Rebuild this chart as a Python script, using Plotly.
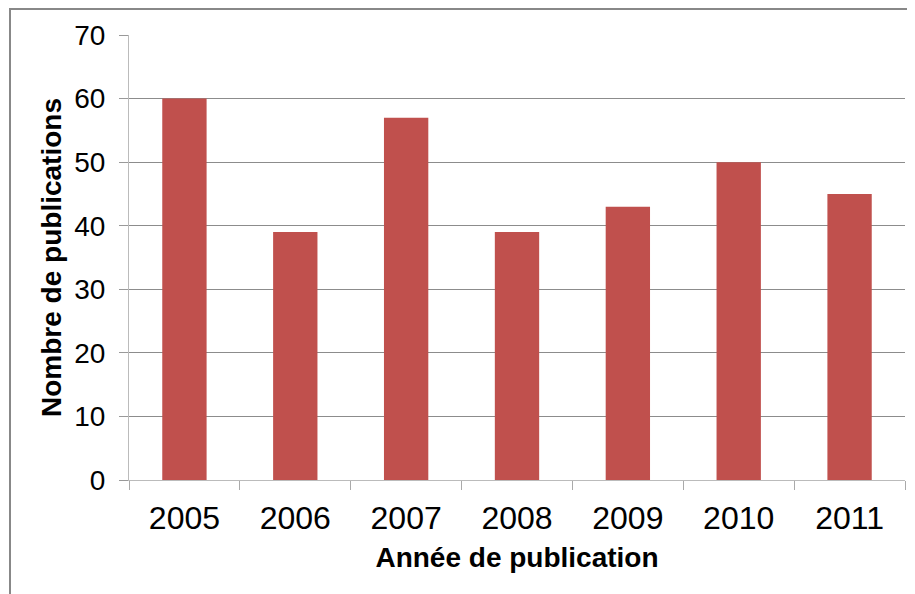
import plotly.graph_objects as go

years = ["2005", "2006", "2007", "2008", "2009", "2010", "2011"]
publications = [60, 39, 57, 39, 43, 50, 45]
y_ticks = [0, 10, 20, 30, 40, 50, 60, 70]

bar_color = "#C0504D"
font_family = "Liberation Sans, Arial, sans-serif"

# page body has an 8px margin, so figure coordinates are offset accordingly
L, T, R, B = 121, 27, 18, 122
PW, PH = 915 - L - R, 594 - T - B

fig = go.Figure()
fig.add_trace(go.Bar(x=years, y=publications, marker=dict(color=bar_color, line=dict(width=0))))

fig.update_layout(
    width=915, height=594,
    margin=dict(l=L, r=R, t=T, b=B, autoexpand=False),
    paper_bgcolor="white", plot_bgcolor="white",
    bargap=0.6,
    showlegend=False,
    font=dict(family=font_family, color="black"),
    shapes=[dict(type="rect", xref="paper", yref="paper",
                 x0=(2 - L) / PW, y0=-(B + 20) / PH, x1=1.5, y1=(PH + T - 1) / PH,
                 line=dict(color="#888888", width=2), fillcolor="rgba(0,0,0,0)", layer="below")],
)
fig.update_xaxes(
    type="category", automargin=False,
    showline=True, linecolor="#BBBBBB", linewidth=1,
    ticks="outside", ticklen=9, tickcolor="#AAAAAA", tickson="boundaries",
    tickfont=dict(size=32, family=font_family, color="black"),
    ticklabelstandoff=10,
    title=dict(text="<b>Année de publication</b>", font=dict(size=28, family=font_family), standoff=11),
    showgrid=False,
)
fig.update_yaxes(
    range=[0, 70], tickvals=y_ticks, automargin=False,
    showline=True, linecolor="#BBBBBB", linewidth=1,
    ticks="outside", ticklen=9, tickcolor="#999999",
    showgrid=True, gridcolor="#8C8C8C", gridwidth=1,
    zeroline=False,
    tickfont=dict(size=28, family=font_family, color="black"),
    ticklabelstandoff=8,
    title=dict(text="<b>Nombre de publications</b>", font=dict(size=28, family=font_family), standoff=4),
)

fig.write_html("out.html")
